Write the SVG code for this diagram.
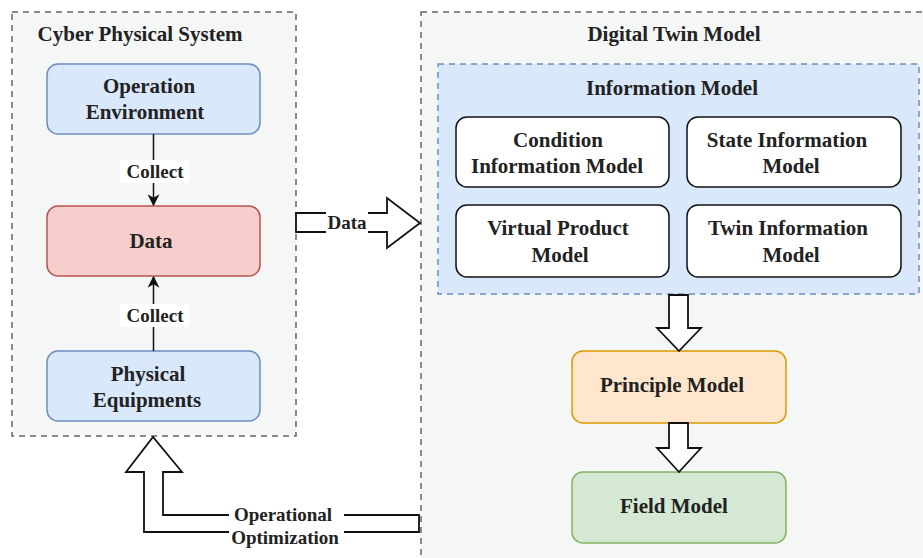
<svg xmlns="http://www.w3.org/2000/svg" width="923" height="558" viewBox="0 0 923 558">
  <style>
    text { font-family: "Liberation Serif", "Times New Roman", serif; font-weight: bold; font-size: 21px; fill: #222; text-anchor: middle; }
    .container { fill: #f5f6f6; stroke: #666; stroke-width: 1.5; stroke-dasharray: 6 5; }
    .blue { fill: #dae8fc; stroke: #6c8ebf; stroke-width: 1.5; }
    .red { fill: #f8cecc; stroke: #b85450; stroke-width: 1.5; }
    .white { fill: #ffffff; stroke: #111; stroke-width: 1.5; }
    .orange { fill: #ffe6cc; stroke: #d79b00; stroke-width: 1.5; }
    .green { fill: #d5e8d4; stroke: #82b366; stroke-width: 1.5; }
    .group { fill: #dae8fc; stroke: #6c8ebf; stroke-width: 1.5; stroke-dasharray: 6 5; }
    .edge { fill: none; stroke: #111; stroke-width: 1.5; }
    .block { fill: #ffffff; stroke: #111; stroke-width: 1.8; }
    .lbl { fill: #ffffff; stroke: none; }
    .small { font-size: 19px; }
  </style>
  <defs>
    <marker id="arrow" viewBox="0 0 10 10" refX="9" refY="5" markerWidth="8" markerHeight="8" orient="auto-start-reverse">
      <path d="M0,0 L10,5 L0,10 L3,5 Z" fill="#111"/>
    </marker>
  </defs>

  <!-- Containers -->
  <g id="cps">
    <rect class="container" x="12" y="12" width="284" height="424"/>
    <text x="140" y="41">Cyber Physical System</text>
  </g>
  <g id="dtm">
    <rect class="container" x="421" y="12" width="520" height="560"/>
    <text x="674" y="41">Digital Twin Model</text>
  </g>

  <!-- Left side nodes -->
  <g id="operation-environment">
    <rect class="blue" x="47" y="64" width="213" height="70" rx="11"/>
    <text x="149" y="93">Operation</text>
    <text x="145" y="119">Environment</text>
  </g>
  <g id="data">
    <rect class="red" x="47" y="206" width="213" height="70" rx="11"/>
    <text x="151" y="248">Data</text>
  </g>
  <g id="physical-equipments">
    <rect class="blue" x="47" y="351" width="213" height="70" rx="11"/>
    <text x="148" y="381">Physical</text>
    <text x="147" y="407">Equipments</text>
  </g>

  <!-- Information model group -->
  <g id="information-model">
    <rect class="group" x="438" y="64" width="481" height="230"/>
    <text x="672" y="95">Information Model</text>
  </g>
  <g id="condition-information-model">
    <rect class="white" x="456" y="117" width="213" height="70" rx="11"/>
    <text x="558" y="147">Condition</text>
    <text x="557" y="173">Information Model</text>
  </g>
  <g id="state-information-model">
    <rect class="white" x="687" y="117" width="214" height="70" rx="11"/>
    <text x="787" y="147">State Information</text>
    <text x="791" y="173">Model</text>
  </g>
  <g id="virtual-product-model">
    <rect class="white" x="456" y="205" width="213" height="72" rx="11"/>
    <text x="558" y="235">Virtual Product</text>
    <text x="560" y="262">Model</text>
  </g>
  <g id="twin-information-model">
    <rect class="white" x="687" y="205" width="214" height="72" rx="11"/>
    <text x="788" y="235">Twin Information</text>
    <text x="791" y="262">Model</text>
  </g>
  <g id="principle-model">
    <rect class="orange" x="572" y="351" width="214" height="72" rx="11"/>
    <text x="672" y="392">Principle Model</text>
  </g>
  <g id="field-model">
    <rect class="green" x="572" y="472" width="214" height="71" rx="11"/>
    <text x="674" y="513">Field Model</text>
  </g>

  <!-- Connectors -->
  <g id="connectors">
    <!-- Collect arrows -->
    <line class="edge" x1="153.5" y1="134" x2="153.5" y2="205" marker-end="url(#arrow)"/>
    <rect class="lbl" x="120" y="160" width="70" height="23"/>
    <text class="small" x="155" y="178">Collect</text>

    <line class="edge" x1="153.5" y1="351" x2="153.5" y2="277" marker-end="url(#arrow)"/>
    <rect class="lbl" x="120" y="304" width="70" height="23"/>
    <text class="small" x="155" y="322">Collect</text>

    <!-- Data block arrow -->
    <path class="block" d="M296,213 L387,213 L387,198 L420,223 L387,248 L387,232 L296,232 Z"/>
    <rect class="lbl" x="326" y="212" width="42" height="21"/>
    <text class="small" x="347" y="229">Data</text>

    <!-- Down block arrows -->
    <path class="block" d="M669,295 L688,295 L688,328 L701,328 L679,351 L657,328 L669,328 Z"/>
    <path class="block" d="M669,423 L688,423 L688,448 L701,448 L679,472 L657,448 L669,448 Z"/>

    <!-- Operational optimization feedback arrow -->
    <path class="block" d="M419,515 L163,515 L163,472 L182,472 L153,437 L126,472 L144,472 L144,532 L419,532 Z"/>
    <rect class="lbl" x="229" y="503" width="115" height="45"/>
    <text class="small" x="283" y="521">Operational</text>
    <text class="small" x="285" y="544">Optimization</text>
  </g>
</svg>
